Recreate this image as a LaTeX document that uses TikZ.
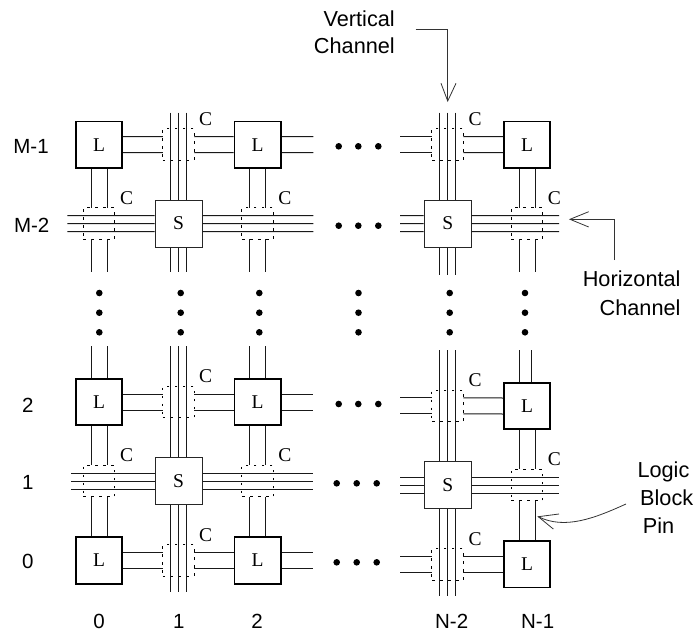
\documentclass[tikz,border=0pt]{standalone}
\usepackage{fontspec}
\setmainfont{Liberation Serif}
\newfontfamily\helv{Liberation Sans}
\usetikzlibrary{calc}
\tikzset{
  wire/.style={line width=1pt,color=black!90},
  lblock/.style={draw=black,line width=1.7pt,fill=white,minimum size=46.5pt,inner sep=0pt,font=\fontsize{19.5}{22}\selectfont},
  sblock/.style={draw=black!85,line width=1pt,fill=white,minimum size=47pt,inner sep=0pt,font=\fontsize{19.5}{22}\selectfont},
  conn/.style={draw=black,line width=1pt,dash pattern=on 2.6pt off 5.4pt,minimum size=31.5pt,inner sep=0pt,outer sep=0pt},
  clabel/.style={inner sep=0pt,font=\fontsize{19.5}{22}\selectfont},
  sans/.style={inner sep=0pt,font=\helv\fontsize{20.5}{24}\selectfont},
  note/.style={inner sep=0pt,font=\helv\fontsize{21.7}{24}\selectfont},
  dotnode/.style={circle,fill=black,minimum size=6.6pt,inner sep=0pt},
  pointer/.style={line width=0.8pt,color=black!80}
}
% horizontal pair (offsets in y), vertical pair (offsets in x), triples
\newcommand\hpair[2]{\draw[wire] ($#1+(0,-8)$) -- ($#2+(0,-8)$);\draw[wire] ($#1+(0,8)$) -- ($#2+(0,8)$);}
\newcommand\vpair[2]{\draw[wire] ($#1+(-8,0)$) -- ($#2+(-8,0)$);\draw[wire] ($#1+(8,0)$) -- ($#2+(8,0)$);}
\newcommand\htriple[2]{\draw[wire] ($#1+(0,-8)$) -- ($#2+(0,-8)$);\draw[wire] #1 -- #2;\draw[wire] ($#1+(0,8)$) -- ($#2+(0,8)$);}
\newcommand\vtriple[2]{\draw[wire] ($#1+(-8,0)$) -- ($#2+(-8,0)$);\draw[wire] #1 -- #2;\draw[wire] ($#1+(8,0)$) -- ($#2+(8,0)$);}
\begin{document}
\begin{tikzpicture}[x=1pt,y=-1pt]
\useasboundingbox (0,0) rectangle (694,635);
% connection boxes
\node[conn] (VA) at (178.5,144.5) {};
\node[conn] (VB) at (447.7,144.5) {};
\node[conn] (VC) at (178.5,402) {};
\node[conn] (VD) at (447.7,405.8) {};
\node[conn] (VE) at (178.5,560.5) {};
\node[conn] (VF) at (447.7,564.3) {};
\node[conn] (HA) at (99,223.6) {};
\node[conn] (HB) at (257.7,223.6) {};
\node[conn] (HC) at (527,223.6) {};
\node[conn] (HD) at (99,481) {};
\node[conn] (HE) at (257.7,481) {};
\node[conn] (HF) at (527,485) {};
% logic blocks
\node[lblock] (L1) at (99,144.7) {L};
\node[lblock] (L2) at (257.7,144.7) {L};
\node[lblock] (L3) at (527,144.7) {L};
\node[lblock] (L4) at (99,402) {L};
\node[lblock] (L5) at (257.7,402) {L};
\node[lblock] (L6) at (527,406) {L};
\node[lblock] (L7) at (99,560.5) {L};
\node[lblock] (L8) at (257.7,560.5) {L};
\node[lblock] (L9) at (527,564.3) {L};
% switch blocks
\node[sblock] (S1) at (178.5,223.5) {S};
\node[sblock] (S2) at (447.7,223.5) {S};
\node[sblock] (S3) at (178.5,481) {S};
\node[sblock] (S4) at (447.7,485) {S};
% free ends
\coordinate (r1a) at (313.3,144.5);
\coordinate (r1b) at (400,144.5);
\coordinate (r2a) at (67.3,223.6);
\coordinate (r2b) at (313.3,223.6);
\coordinate (r2c) at (400,223.6);
\coordinate (r2d) at (559,223.6);
\coordinate (r3a) at (313.3,402);
\coordinate (r3b) at (400,405.8);
\coordinate (r4a) at (71.3,481);
\coordinate (r4b) at (313.3,481);
\coordinate (r4c) at (400,485);
\coordinate (r4d) at (559,485);
\coordinate (r5a) at (313.3,560.5);
\coordinate (r5b) at (400,564.3);
\coordinate (c1a) at (99,271.7);
\coordinate (c1b) at (99,346);
\coordinate (c2a) at (178.5,112.7);
\coordinate (c2b) at (178.5,271.7);
\coordinate (c2c) at (178.5,346);
\coordinate (c2d) at (178.5,592.3);
\coordinate (c3a) at (257.7,271.7);
\coordinate (c3b) at (257.7,346);
\coordinate (c4a) at (447.7,112.7);
\coordinate (c4b) at (447.7,275.3);
\coordinate (c4c) at (447.7,350);
\coordinate (c4d) at (447.7,596);
\coordinate (c5a) at (527,271.7);
\coordinate (c6a) at (519,350);
\coordinate (c6b) at (531,350);
% pin pairs, horizontal
\hpair{(L1.east)}{(VA.west)}
\hpair{(VA.east)}{(L2.west)}
\hpair{(L2.east)}{(r1a)}
\hpair{(r1b)}{(VB.west)}
\hpair{(VB.east)}{(L3.west)}
\hpair{(L4.east)}{(VC.west)}
\hpair{(VC.east)}{(L5.west)}
\hpair{(L5.east)}{(r3a)}
\hpair{(r3b)}{(VD.west)}
\hpair{(VD.east)}{(L6.west)}
\hpair{(L7.east)}{(VE.west)}
\hpair{(VE.east)}{(L8.west)}
\hpair{(L8.east)}{(r5a)}
\hpair{(r5b)}{(VF.west)}
\hpair{(VF.east)}{(L9.west)}
% pin pairs, vertical
\vpair{(L1.south)}{(HA.north)}
\vpair{(HA.south)}{(c1a)}
\vpair{(L2.south)}{(HB.north)}
\vpair{(HB.south)}{(c3a)}
\vpair{(L3.south)}{(HC.north)}
\vpair{(HC.south)}{(c5a)}
\vpair{(c1b)}{(L4.north)}
\vpair{(c3b)}{(L5.north)}
\draw[wire] (c6a) -- (c6a |- L6.north);
\draw[wire] (c6b) -- (c6b |- L6.north);
\vpair{(L4.south)}{(HD.north)}
\vpair{(L5.south)}{(HE.north)}
\vpair{(L6.south)}{(HF.north)}
\vpair{(HD.south)}{(L7.north)}
\vpair{(HE.south)}{(L8.north)}
\vpair{(HF.south)}{(L9.north)}
% channels
\vtriple{(c2a)}{(S1.north)}
\vtriple{(S1.south)}{(c2b)}
\vtriple{(c4a)}{(S2.north)}
\vtriple{(S2.south)}{(c4b)}
\vtriple{(c2c)}{(S3.north)}
\vtriple{(S3.south)}{(c2d)}
\vtriple{(c4c)}{(S4.north)}
\vtriple{(S4.south)}{(c4d)}
\htriple{(r2a)}{(S1.west)}
\htriple{(S1.east)}{(r2b)}
\htriple{(r2c)}{(S2.west)}
\htriple{(S2.east)}{(r2d)}
\htriple{(r4a)}{(S3.west)}
\htriple{(S3.east)}{(r4b)}
\htriple{(r4c)}{(S4.west)}
\htriple{(S4.east)}{(r4d)}
% C labels
\node[clabel] (C1) at (205.7,119.3) {C};
\node[clabel] (C2) at (126.7,198.3) {C};
\node[clabel] (C3) at (285,198.3) {C};
\node[clabel] (C4) at (475,119.3) {C};
\node[clabel] (C5) at (554.3,198.3) {C};
\node[clabel] (C6) at (205.7,376) {C};
\node[clabel] (C7) at (126.7,455) {C};
\node[clabel] (C8) at (285,455) {C};
\node[clabel] (C9) at (475,380) {C};
\node[clabel] (C10) at (554.3,459) {C};
\node[clabel] (C11) at (205.7,535) {C};
\node[clabel] (C12) at (475,539) {C};
% dots
\foreach \n/\x in {a/99.3,b/180.7,c/259.3,d/358.5,e/449.7,f/525}
  \foreach \m/\y in {1/293,2/312.7,3/332.3}
    \node[dotnode] (dv\n\m) at (\x,\y) {};
\foreach \m/\x in {1/338.7,2/358.3,3/378.3} {
  \node[dotnode] (dha\m) at (\x,146.3) {};
  \node[dotnode] (dhb\m) at (\x,225.7) {};
  \node[dotnode] (dhc\m) at (\x,404) {};
}
\foreach \m/\x in {1/336.7,2/356.7,3/376.7} {
  \node[dotnode] (dhd\m) at (\x,483.3) {};
  \node[dotnode] (dhe\m) at (\x,562.3) {};
}
% axis labels
\node[sans,anchor=base] (m1) at (31,153.3) {M-1};
\node[sans,anchor=base] (m2) at (31.7,232.3) {M-2};
\node[sans,anchor=base] (y2) at (27.7,412) {2};
\node[sans,anchor=base] (y1) at (27.7,489) {1};
\node[sans,anchor=base] (y0) at (27.7,568.7) {0};
\node[sans,anchor=base] (x0) at (99,628.3) {0};
\node[sans,anchor=base] (x1) at (178.7,628.3) {1};
\node[sans,anchor=base] (x2) at (257,628.3) {2};
\node[sans,anchor=base] (x3) at (451.7,628.3) {N-2};
\node[sans,anchor=base] (x4) at (537.7,628.3) {N-1};
% annotations
\node[note,anchor=base east] (vt1) at (395,26.7) {Vertical};
\node[note,anchor=base east] (vt2) at (395,53.3) {Channel};
\node[note,anchor=base east] (ht1) at (680.7,286.7) {Horizontal};
\node[note,anchor=base east] (ht2) at (680.7,315) {Channel};
\node[note,anchor=base west] (lp1) at (637.3,477.3) {Logic};
\node[note,anchor=base west] (lp2) at (640,505.7) {Block};
\node[note,anchor=base west] (lp3) at (642.7,533.3) {Pin};
% pointers
\coordinate (vs) at (415.7,29.7);
\coordinate (vk) at (447.7,29.7);
\coordinate (vh) at (447.7,101);
\draw[pointer] (vs) -- (vk) -- (vh);
\draw[pointer] (441,83.3) -- (vh) -- (456,83.3);
\coordinate (hs) at (614,260);
\coordinate (hk) at (614,219.3);
\coordinate (hh) at (570,219.3);
\draw[pointer] (hs) -- (hk) -- (hh);
\draw[pointer] (588.7,211.7) -- (hh) -- (588.7,227);
\coordinate (ps) at (626,504);
\coordinate (ph) at (538.3,516.7);
\draw[pointer] (ps) .. controls (595,518) and (565,530) .. (ph);
\draw[pointer] (559,514) -- (ph) -- (553.3,529);
\end{tikzpicture}
\end{document}
